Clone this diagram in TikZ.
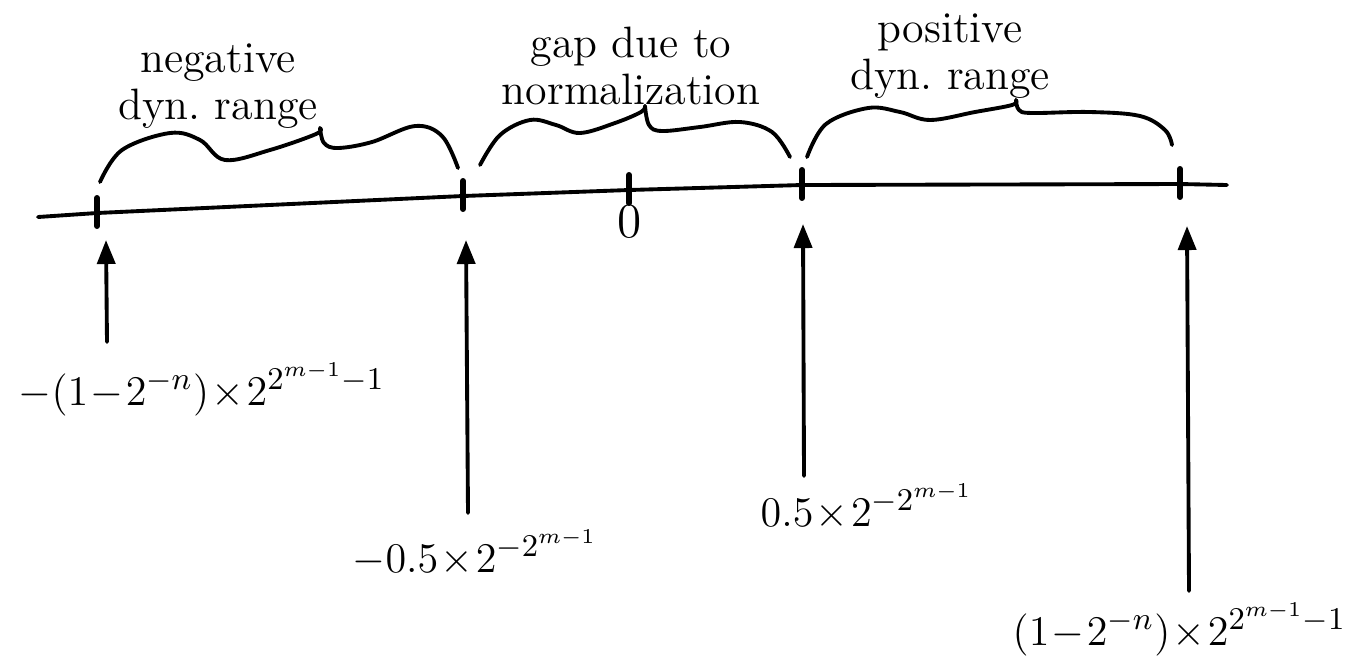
\documentclass[tikz,border=0pt]{standalone}
\usetikzlibrary{arrows.meta}

\newcommand{\boundval}[1]{\medmuskip=1mu\relax$#1$}

\tikzset{
  hand/.style={line width=1.1pt, line cap=round, line join=round},
  tickmark/.style={line width=1.7pt},
  pointer/.style={hand, -{Triangle[length=2.4mm,width=1.8mm]}},
  curly/.style={hand, smooth, tension=0.6},
  rangetext/.style={align=center, inner sep=0pt, font=\fontsize{12.5}{13.5}\selectfont},
  bound/.style={anchor=base west, inner sep=0pt, font=\fontsize{12.5}{15}\selectfont},
}

\begin{document}
\begin{tikzpicture}[x=0.01cm, y=-0.01cm]
  \useasboundingbox (0,0) rectangle (1346,657);
  % number line
  \draw[hand] (38,217) -- (97,213) -- (463,196) -- (629,190) -- (802,185) -- (1180,184) -- (1227,185);
  % ticks
  \foreach \name/\x/\y in {t1/97/213, t2/463/196, t3/629/190, t4/802/185, t5/1180/184} {
    \coordinate (\name) at (\x,\y);
    \draw[hand, tickmark] (\x,\y-15) -- (\x,\y+13);
  }
  \node[rangetext, font=\fontsize{14}{16}\selectfont] (zero) at (630,222) {0};
  % braces
  \draw[curly] plot coordinates {(100,182) (122,150) (170,133) (200,140) (225,160) (270,150) (316,134) (320,128)};
  \draw[curly] plot coordinates {(320,128) (324,143) (338,148) (372,142) (415,126) (442,136) (458,168)};
  \draw[curly] plot coordinates {(480,165) (500,135) (530,120) (556,125) (580,133) (615,123) (641,112) (645,106)};
  \draw[curly] plot coordinates {(645,106) (649,125) (662,131) (700,127) (740,122) (772,132) (790,157)};
  \draw[curly] plot coordinates {(807,157) (826,124) (868,108) (900,112) (930,120) (975,112) (1012,105) (1016,100)};
  \draw[curly] plot coordinates {(1016,100) (1019,110) (1032,113) (1090,112) (1140,116) (1165,130) (1172,145)};
  % range labels
  \node[rangetext] (neg) at (218,86) {negative\\dyn.\ range};
  \node[rangetext] (gap) at (631,66) {gap due to\\normalization};
  \node[rangetext] (pos) at (950,56) {positive\\dyn.\ range};
  % bound labels
  \node[bound] (lowneg) at (18,405) {\boundval{-(1-2^{-n})\times2^{2^{m-1}-1}}};
  \node[bound] (highneg) at (352,572) {\boundval{-0.5\times2^{-2^{m-1}}}};
  \node[bound] (lowpos) at (760,526) {\boundval{0.5\times2^{-2^{m-1}}}};
  \node[bound] (highpos) at (1012,645) {\boundval{(1-2^{-n})\times2^{2^{m-1}-1}}};
  % arrows
  \coordinate (a1) at (106,240);  \coordinate (b1) at (107,342);
  \coordinate (a2) at (466,240);  \coordinate (b2) at (468,513);
  \coordinate (a3) at (803,224);  \coordinate (b3) at (804,476);
  \coordinate (a4) at (1187,226); \coordinate (b4) at (1189,591);
  \foreach \i in {1,...,4}
    \draw[pointer] (b\i) -- (a\i);
\end{tikzpicture}
\end{document}
